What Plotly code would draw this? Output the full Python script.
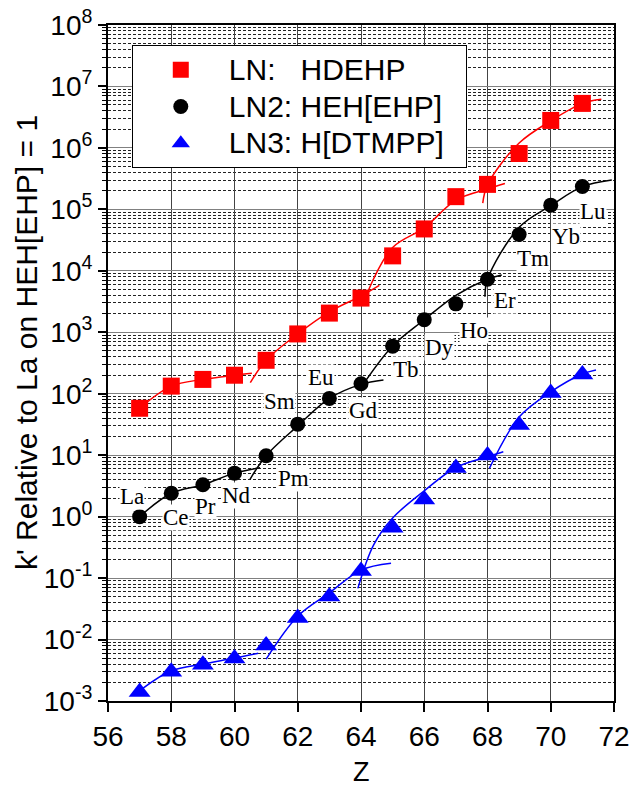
import plotly.graph_objects as go

# Atomic number of each lanthanide and its symbol
z_values = [57, 58, 59, 60, 61, 62, 63, 64, 65, 66, 67, 68, 69, 70, 71]
elements = ["La", "Ce", "Pr", "Nd", "Pm", "Sm", "Eu", "Gd", "Tb", "Dy", "Ho", "Er", "Tm", "Yb", "Lu"]

# k' relative to La on HEH[EHP] for each extractant
k_hdehp = [58, 133, 171, 200, 350, 940, 2050, 3600, 17500, 48000, 161000, 255000, 810000, 2.8e6, 5.3e6]
k_hehehp = [1.0, 2.4, 3.3, 5.1, 9.8, 32, 84, 145, 595, 1600, 2900, 7300, 39000, 117000, 235000]
k_hdtmpp = [0.0014, 0.0030, 0.0039, 0.0049, 0.0080, 0.0225, 0.050, 0.13, 0.66, 1.9, 6.2, 9.9, 31, 103, 205]

# Tetrad fit curves: knots of each segment (Z, k')
fit_hdehp_z = [[57, 58, 59, 60, 60.55], [60.5, 61, 62, 63, 64, 64.58],
               [64.2, 65, 66, 67, 68, 68.55], [67.85, 68, 69, 70, 71, 71.6]]
fit_hdehp_k = [[58, 133, 171, 200, 215], [151, 350, 940, 2150, 3900, 5800],
               [4400, 24000, 50000, 141000, 214000, 263000],
               [126000, 251000, 1.2e6, 2.75e6, 5.3e6, 6.2e6]]
fit_hehehp_z = [[57, 58, 59, 60, 60.81], [60.49, 61, 62, 63, 64, 64.71],
                [64.1, 65, 66, 67, 68, 68.45], [67.92, 68, 69, 70, 71, 71.93]]
fit_hehehp_k = [[1.0, 2.4, 3.3, 5.1, 6.25], [4.05, 9.8, 30, 84, 142, 167],
                [150, 600, 1600, 4000, 7300, 8550],
                [3800, 7300, 51000, 115000, 234000, 300000]]
fit_hdtmpp_z = [[57.1, 58, 59, 60, 60.75], [61.0, 62, 63, 64, 64.95],
                [63.9, 64.4, 65, 66, 67, 68, 68.5], [68.06, 69, 70, 71, 71.43]]
fit_hdtmpp_k = [[0.0016, 0.0031, 0.0040, 0.0050, 0.0060], [0.0048, 0.024, 0.0575, 0.135, 0.174],
                [0.068, 0.347, 0.95, 2.63, 6.3, 9.44, 11.4], [6.1, 41.7, 107, 209, 243]]

# Element label anchor points (Z, log10 k')
label_z = [56.75, 58.15, 59.07, 60.07, 61.88, 61.41, 62.74, 64.09, 65.41, 66.47, 67.57, 68.55, 69.44, 70.48, 71.35]
label_logk = [0.335, -0.006, 0.161, 0.352, 0.628, 1.881, 2.272, 1.735, 2.402, 2.760, 3.037, 3.525, 4.200, 4.566, 4.973]

# Axis ticks
x_ticks = [56, 58, 60, 62, 64, 66, 68, 70, 72]
y_exponents = [-3, -2, -1, 0, 1, 2, 3, 4, 5, 6, 7, 8]

SANS = "Liberation Sans, Arial, sans-serif"
SERIF = "Liberation Serif, Times New Roman, serif"


def join_segments(seg_z, seg_k):
    xs, ys = [], []
    for zz, kk in zip(seg_z, seg_k):
        xs += list(zz) + [None]
        ys += list(kk) + [None]
    return xs, ys


def legend_label(text):
    return '<span style="font-size:30px">%s\u00a0\u00a0</span>' % text


series = [
    ("LN:\u00a0\u00a0\u00a0HDEHP", k_hdehp, fit_hdehp_z, fit_hdehp_k, "#ff0000", "square", 17),
    ("LN2: HEH[EHP]", k_hehehp, fit_hehehp_z, fit_hehehp_k, "#000000", "circle", 15),
    ("LN3: H[DTMPP]", k_hdtmpp, fit_hdtmpp_z, fit_hdtmpp_k, "#0000ff", "triangle-up", 19),
]

fig = go.Figure()
for name, kv, fz, fk, color, symbol, size in series:
    lx, ly = join_segments(fz, fk)
    fig.add_trace(go.Scatter(
        x=lx, y=ly, mode="lines", line=dict(color=color, width=1.5, shape="spline", smoothing=1),
        showlegend=False, hoverinfo="skip", connectgaps=False))
for name, kv, fz, fk, color, symbol, size in series:
    fig.add_trace(go.Scatter(
        x=z_values, y=kv, mode="markers", name=legend_label(name),
        marker=dict(color=color, symbol=symbol, size=size, line=dict(width=0))))

minor_vals = [m * 10.0 ** e for e in range(-3, 8) for m in range(2, 10)]
major_vals = [10.0 ** e for e in y_exponents]

for txt, zx, ly in zip(elements, label_z, label_logk):
    fig.add_annotation(x=zx, y=ly, xref="x", yref="y", text=txt, showarrow=False,
                       font=dict(family=SERIF, size=23, color="black"),
                       bgcolor="white", borderpad=0, xanchor="center", yanchor="middle")

fig.add_annotation(x=-0.160, y=0.5296, xref="paper", yref="paper",
                   text="k' Relative to La on HEH[EHP] = 1", textangle=-90, showarrow=False,
                   font=dict(family=SANS, size=30, color="black"), xanchor="center", yanchor="middle")
fig.add_annotation(x=0.5, y=-0.105, xref="paper", yref="paper", text="Z", showarrow=False,
                   font=dict(family=SANS, size=27, color="black"), xanchor="center", yanchor="middle")

fig.update_layout(
    width=635, height=787,
    margin=dict(l=108, r=21, t=25, b=86, autoexpand=False),
    paper_bgcolor="white", plot_bgcolor="white",
    showlegend=True,
    legend=dict(x=0.047, y=0.970, xanchor="left", yanchor="top",
                bgcolor="white", bordercolor="black", borderwidth=1,
                font=dict(family=SANS, size=26, color="black"),
                itemwidth=86, tracegroupgap=0),
    xaxis=dict(range=[56, 72], tickmode="array", tickvals=x_ticks,
               ticktext=[str(v) for v in x_ticks], automargin=False,
               showline=True, linecolor="black", linewidth=2, mirror=True,
               ticks="outside", ticklen=9, tickwidth=1.5, tickcolor="black",
               showgrid=True, gridcolor="#444444", gridwidth=1,
               tickfont=dict(family=SANS, size=28, color="black"), zeroline=False),
    yaxis=dict(type="log", range=[-3, 8], tickmode="array", automargin=False,
               tickvals=major_vals,
               ticktext=["10<sup>%d</sup>" % e for e in y_exponents],
               showline=True, linecolor="black", linewidth=2, mirror=True,
               ticks="outside", ticklen=8, tickwidth=1.5, tickcolor="black",
               showgrid=True, gridcolor="#808080", gridwidth=1.2,
               tickfont=dict(family=SANS, size=28, color="black"), zeroline=False,
               minor=dict(tickmode="array", tickvals=minor_vals, ticks="outside", ticklen=4,
                          tickwidth=1, tickcolor="black", showgrid=True,
                          gridcolor="#222222", gridwidth=1, griddash="3px,2px")),
    # inward ticks on the right and top edges of the frame
    yaxis2=dict(type="log", range=[-3, 8], overlaying="y", side="right", anchor="x",
                tickmode="array", tickvals=major_vals, showticklabels=False, automargin=False,
                ticks="inside", ticklen=8, tickwidth=1.5, tickcolor="black", showgrid=False,
                zeroline=False, showline=False,
                minor=dict(tickmode="array", tickvals=minor_vals, ticks="inside", ticklen=4,
                           tickwidth=1, tickcolor="black", showgrid=False)),
    xaxis2=dict(range=[56, 72], overlaying="x", side="top", anchor="y",
                tickmode="array", tickvals=x_ticks, showticklabels=False, automargin=False,
                ticks="inside", ticklen=8, tickwidth=1.5, tickcolor="black", showgrid=False,
                zeroline=False, showline=False),
)

fig.write_html("out.html")
